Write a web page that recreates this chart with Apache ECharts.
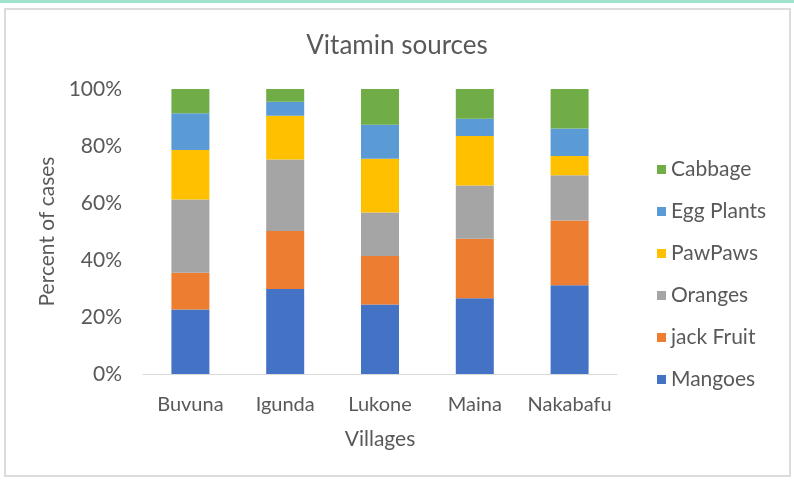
<!DOCTYPE html>
<html>
<head>
<meta charset="utf-8">
<script src="https://cdn.jsdelivr.net/npm/echarts@6/dist/echarts.min.js"></script>
<style>
  html, body { margin: 0; padding: 0; background: #fff; }
  #chart { width: 794px; height: 482px; }
</style>
</head>
<body>
<div id="chart"></div>
<script>
// villages on the x axis
const villages = ['Buvuna', 'Igunda', 'Lukone', 'Maina', 'Nakabafu']

// percent of cases per vitamin source
const mangoes = [22.6, 29.8, 24.4, 26.6, 31.1]
const jackFruit = [12.9, 20.4, 17.0, 20.9, 22.8]
const oranges = [25.7, 25.1, 15.3, 18.6, 15.8]
const pawPaws = [17.4, 15.3, 18.8, 17.4, 6.8]
const eggPlants = [12.9, 4.9, 12.0, 6.1, 9.6]
const cabbage = [8.5, 4.5, 12.5, 10.4, 13.9]

const yTicks = [0, 20, 40, 60, 80, 100]

const seriesNames = ['Mangoes', 'jack Fruit', 'Oranges', 'PawPaws', 'Egg Plants', 'Cabbage']
const seriesValues = [mangoes, jackFruit, oranges, pawPaws, eggPlants, cabbage]
const colors = ['#4472c4', '#ed7d31', '#a5a5a5', '#ffc000', '#5b9bd5', '#70ad47']

const textColor = '#595959'
const font = 'Lato, "Open Sans", sans-serif'

const chart = echarts.init(document.getElementById('chart'))

chart.setOption({
  animation: false,
  textStyle: { fontFamily: font },
  color: colors,
  graphic: [
    { type: 'rect', shape: { x: 0, y: 0, width: 794, height: 3 }, style: { fill: '#9fe3cc' }, silent: true },
    {
      type: 'rect',
      shape: { x: 5, y: 9, width: 785, height: 467 },
      style: { fill: 'none', stroke: '#dcdcdc', lineWidth: 2 },
      silent: true,
    },
  ],
  title: {
    text: 'Vitamin sources',
    left: 'center',
    top: 28,
    textStyle: { fontFamily: font, fontSize: 26, fontWeight: 'normal', color: textColor },
  },
  legend: {
    orient: 'vertical',
    left: 652,
    top: 154,
    itemWidth: 9,
    itemHeight: 9,
    itemGap: 21,
    icon: 'rect',
    data: seriesNames.slice().reverse(),
    textStyle: { fontFamily: font, fontSize: 21, color: textColor },
  },
  grid: { left: 143, right: 177, top: 89, bottom: 108 },
  xAxis: {
    type: 'category',
    data: villages,
    name: 'Villages',
    nameLocation: 'middle',
    nameGap: 55,
    nameTextStyle: { fontFamily: font, fontSize: 21, color: textColor },
    axisLine: { lineStyle: { color: '#d9d9d9', width: 1 } },
    axisTick: { show: false },
    axisLabel: { interval: 0, hideOverlap: false, fontFamily: font, fontSize: 20, color: textColor, margin: 21 },
  },
  yAxis: {
    type: 'value',
    min: yTicks[0],
    max: yTicks[yTicks.length - 1],
    interval: 20,
    name: 'Percent of cases',
    nameLocation: 'middle',
    nameGap: 84,
    nameTextStyle: { fontFamily: font, fontSize: 21, color: textColor },
    axisLine: { show: false },
    axisTick: { show: false },
    splitLine: { show: false },
    axisLabel: { fontFamily: font, fontSize: 21, color: textColor, margin: 21, formatter: '{value}%' },
  },
  series: seriesNames.map((name, i) => ({
    name,
    type: 'bar',
    stack: 'total',
    barWidth: 38,
    data: seriesValues[i],
  })),
})
</script>
</body>
</html>
